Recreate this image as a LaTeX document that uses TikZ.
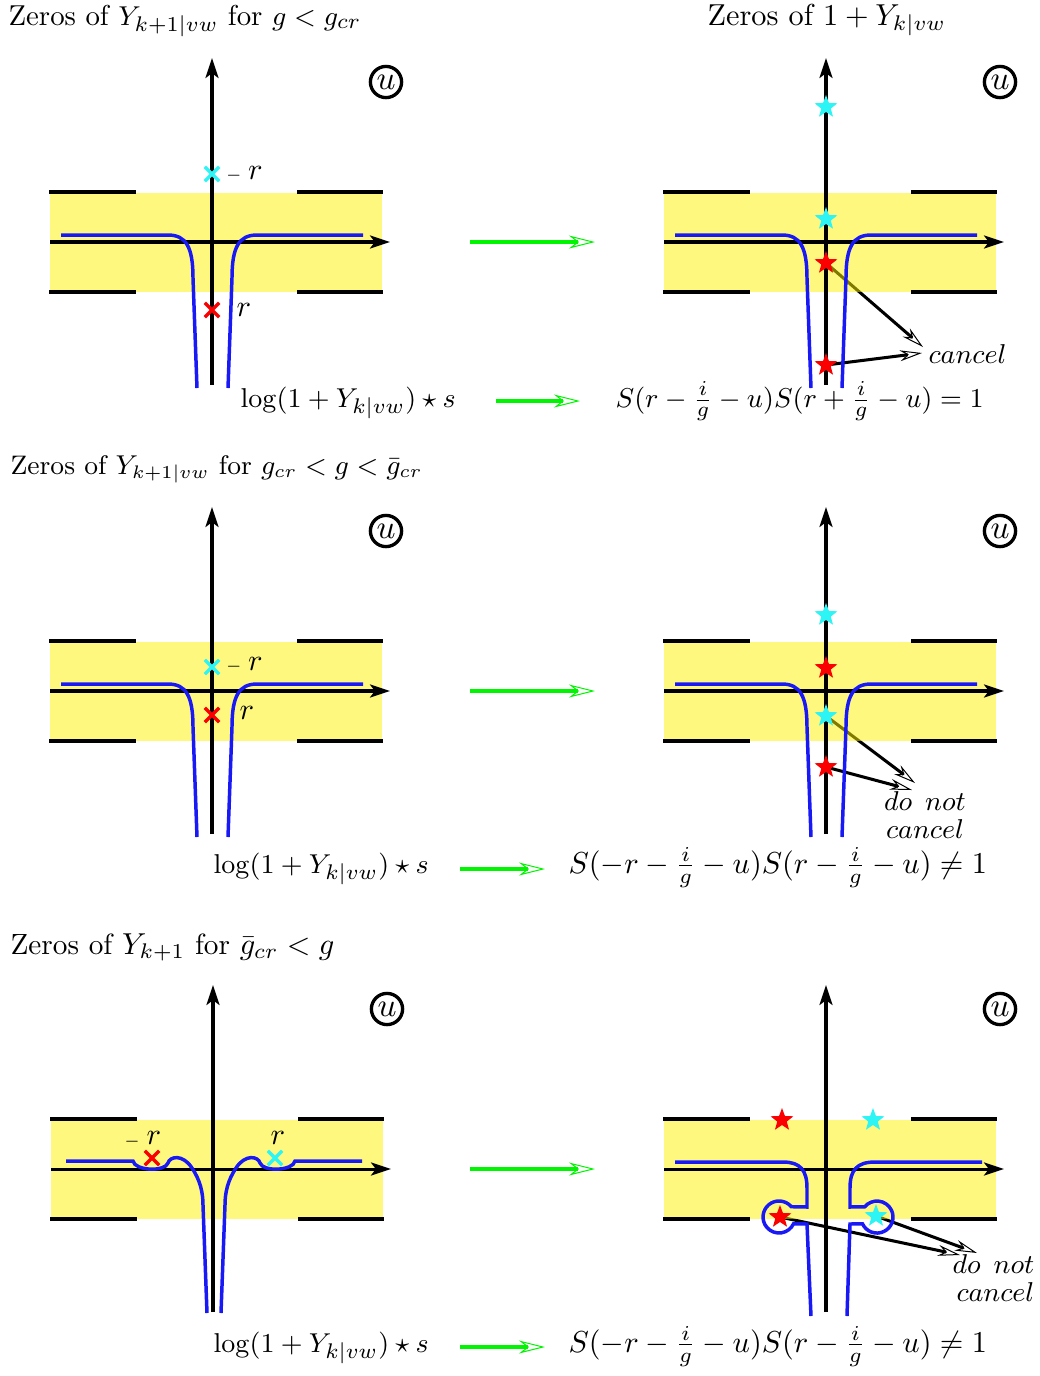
\documentclass[tikz,border=0pt]{standalone}
\usetikzlibrary{arrows.meta,shapes.geometric,shapes.misc}
\pgfdeclarelayer{ptr}
\pgfdeclarelayer{band}
\pgfsetlayers{ptr,band,main}
\definecolor{cblue}{RGB}{25,25,245}
\definecolor{ccyan}{RGB}{45,245,245}
\definecolor{cred}{RGB}{250,0,0}
\definecolor{cgreen}{RGB}{0,245,0}
\tikzset{
  txt/.style={inner sep=0pt},
  fs/.style={font=\fontsize{#1}{#1}\selectfont},
  axis/.style={line width=1pt, -{Stealth[length=6.6pt,width=4.3pt,inset=1.6pt]}},
  bar/.style={line width=1.32pt},
  bandfill/.style={fill=yellow, fill opacity=0.5},
  curve/.style={draw=cblue, line width=1.15pt},
  xmark/.style={cross out, draw=#1, line width=1.15pt, minimum size=3.6pt, inner sep=0pt},
  starmark/.style={star, star points=5, star point ratio=2.4, fill=#1, minimum size=7.9pt, inner sep=0pt},
  garrow/.style={draw=cgreen, line width=1.5pt, -{Stealth[open, length=8.6pt, width=4.3pt, line width=0.33pt]}},
  ptrarrow/.style={line width=1pt, -{Stealth[open, length=7.3pt, width=3.6pt, line width=0.33pt]}},
  cu/.style={circle, draw, line width=1.1pt, minimum size=10.3pt, inner sep=0pt, font=\fontsize{11}{11}\selectfont}
}
\newcommand{\panelframe}[3]{%
  \begin{scope}[shift={(#1,#2)}]
    \begin{pgfonlayer}{band}
      \fill[bandfill] (50,193) rectangle (382,292);
    \end{pgfonlayer}
    \draw[bar] (49,192) -- (136,192) (297,192) -- (383,192) (49,292) -- (136,292) (297,292) -- (383,292);
    \draw[axis] (50,242) -- (390,242);
    \draw[axis] (212,385) -- (212,58);
    \node[cu] (#3u) at (386,82) {$u$};
  \end{scope}}
\newcommand{\stdcurve}[2]{%
  \begin{scope}[shift={(#1,#2)}]
    \draw[curve] (61,235) -- (168,235) .. controls (186,235) and (193,247) .. (193,278) -- (197,388);
    \draw[curve] (228,388) -- (232,278) .. controls (232,247) and (239,235) .. (257,235) -- (363,235);
  \end{scope}}
\begin{document}
\begin{tikzpicture}[x=0.33pt,y=-0.33pt]
\useasboundingbox (0,0) rectangle (1040,1376);

% headers
\node[txt, fs=9.5, anchor=base west] (h1) at (8,25) {Zeros of $Y_{k+1|vw}$ for $g<g_{cr}$};
\node[txt, anchor=base west] (h2) at (707,25) {Zeros of $1+Y_{k|vw}$};
\node[txt, fs=8.85, anchor=base west] (h3) at (10,474) {Zeros of $Y_{k+1|vw}$ for $g_{cr}<g<\bar{g}_{cr}$};
\node[txt, fs=9.65, anchor=base west] (h4) at (10,954) {Zeros of $Y_{k+1}$ for $\bar{g}_{cr}<g$};

% ---------- panel 1 ----------
\panelframe{0}{0}{pa}
\stdcurve{0}{0}
\node[xmark=ccyan] (pax1) at (212,174) {};
\node[xmark=cred] (pax2) at (212,310) {};
\node[txt, anchor=west] (pal1) at (225,174) {$\scriptscriptstyle-$\hspace{2pt}$r$};
\node[txt] (pal2) at (244,310) {$r$};

% ---------- panel 2 ----------
\panelframe{614}{0}{pb}
\stdcurve{614}{0}
\node[starmark=ccyan] (pbs1) at (826,107) {};
\node[starmark=ccyan] (pbs2) at (826,219) {};
\node[starmark=cred] (pbs3) at (826,263) {};
\node[starmark=cred] (pbs4) at (826,365) {};
\node[txt, fs=8.8, anchor=west] (pbc) at (928,354) {$cancel$};
\coordinate (pbe1) at (923,347);
\coordinate (pbe2) at (922,353);
\begin{pgfonlayer}{ptr}
  \draw[ptrarrow] (pbs3.center) -- (pbe1);
  \draw[ptrarrow] (pbs4.center) -- (pbe2);
\end{pgfonlayer}

% row 1 arrows and formulas
\coordinate (g1s) at (470,242); \coordinate (g1e) at (595,242);
\draw[garrow] (g1s) -- (g1e);
\node[txt, fs=9.5, anchor=base west] (fa1) at (240,407) {$\log(1+Y_{k|vw})\star s$};
\node[txt, fs=9.35, anchor=base west] (fb1) at (615,407) {$S(r-\frac{i}{g}-u)S(r+\frac{i}{g}-u)=1$};
\coordinate (g2s) at (496,401); \coordinate (g2e) at (580,401);
\draw[garrow] (g2s) -- (g2e);

% ---------- panel 3 ----------
\panelframe{0}{449}{pc}
\stdcurve{0}{449}
\node[xmark=ccyan] (pcx1) at (212,667) {};
\node[xmark=cred] (pcx2) at (212,715) {};
\node[txt, anchor=west] (pcl1) at (225,665) {$\scriptscriptstyle-$\hspace{2pt}$r$};
\node[txt] (pcl2) at (247,713) {$r$};

% ---------- panel 4 ----------
\panelframe{614}{449}{pd}
\stdcurve{614}{449}
\node[starmark=ccyan] (pds1) at (826,615) {};
\node[starmark=cred] (pds2) at (826,668) {};
\node[starmark=ccyan] (pds3) at (826,716) {};
\node[starmark=cred] (pds4) at (826,767) {};
\node[txt, fs=8.8, align=center] (pdc) at (925,815) {$do$\hspace{4.3pt}$not$\\[0.6pt]$cancel$};
\coordinate (pde1) at (915,783);
\coordinate (pde2) at (912,790);
\begin{pgfonlayer}{ptr}
  \draw[ptrarrow] (pds3.center) -- (pde1);
  \draw[ptrarrow] (pds4.center) -- (pde2);
\end{pgfonlayer}

\coordinate (g3s) at (470,691); \coordinate (g3e) at (595,691);
\draw[garrow] (g3s) -- (g3e);
\node[txt, fs=9.5, anchor=base west] (fa2) at (213,873) {$\log(1+Y_{k|vw})\star s$};
\node[txt, anchor=base west] (fb2) at (568,873) {$S(-r-\frac{i}{g}-u)S(r-\frac{i}{g}-u)\neq 1$};
\coordinate (g4s) at (460,869); \coordinate (g4e) at (545,869);
\draw[garrow] (g4s) -- (g4e);

% ---------- panel 5 ----------
\panelframe{1}{927}{pe}
\draw[curve] (66,1161) -- (133,1161) .. controls (135,1171) and (165,1172) .. (168,1163)
  .. controls (170,1156) and (183,1154) .. (192,1168) .. controls (200,1180) and (203,1192) .. (203,1205) -- (207,1313);
\draw[curve] (221,1313) -- (225,1205) .. controls (225,1192) and (228,1180) .. (236,1168)
  .. controls (245,1154) and (258,1156) .. (260,1163) .. controls (263,1172) and (293,1171) .. (295,1161) -- (362,1161);
\node[xmark=cred] (pex1) at (152,1158) {};
\node[xmark=ccyan] (pex2) at (275,1158) {};
\node[txt] (pem) at (132,1142) {$\scriptscriptstyle-$};
\node[txt] (pel1) at (154,1138) {$r$};
\node[txt] (pel2) at (278,1138) {$r$};

% ---------- panel 6 ----------
\panelframe{614}{927}{pf}
\draw[curve] (675,1162) -- (783,1162) .. controls (800,1162) and (807,1170) .. (807,1188) -- (807,1207)
  -- (791.3,1206.7) arc[start angle=40, end angle=335, radius=5.28pt] -- (807,1224) -- (811,1316);
\draw[curve] (847,1316) -- (850,1224) -- (862.5,1223.8) arc[start angle=205, end angle=500, radius=5.28pt]
  -- (850,1207) -- (850,1188) .. controls (850,1170) and (857,1162) .. (875,1162) -- (982,1162);
\node[starmark=cred] (pfs1) at (782,1120) {};
\node[starmark=ccyan] (pfs2) at (873,1120) {};
\node[starmark=cred] (pfs3) at (780,1217) {};
\node[starmark=ccyan] (pfs4) at (876,1216) {};
\node[txt, fs=8.8, align=right, anchor=east] (pfc) at (1035,1278) {$do$\hspace{4.3pt}$not$\\[0.6pt]$cancel$};
\coordinate (pfe1) at (960,1255);
\coordinate (pfe2) at (977,1253);
\begin{pgfonlayer}{ptr}
  \draw[ptrarrow] (pfs3.center) -- (pfe1);
  \draw[ptrarrow] (pfs4.center) -- (pfe2);
\end{pgfonlayer}

\coordinate (g5s) at (470,1169); \coordinate (g5e) at (595,1169);
\draw[garrow] (g5s) -- (g5e);
\node[txt, fs=9.5, anchor=base west] (fa3) at (213,1352) {$\log(1+Y_{k|vw})\star s$};
\node[txt, anchor=base west] (fb3) at (568,1352) {$S(-r-\frac{i}{g}-u)S(r-\frac{i}{g}-u)\neq 1$};
\coordinate (g6s) at (460,1347); \coordinate (g6e) at (545,1347);
\draw[garrow] (g6s) -- (g6e);
\end{tikzpicture}
\end{document}
